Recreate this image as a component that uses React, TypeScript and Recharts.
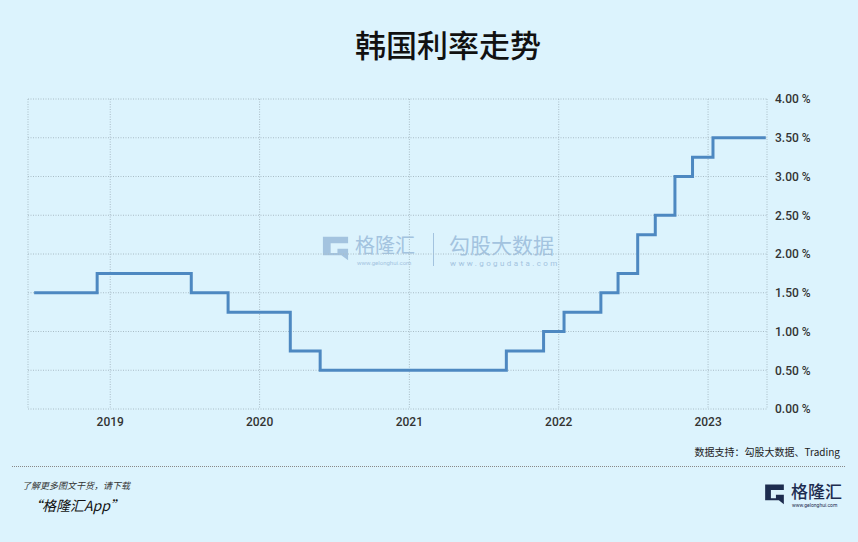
import { LineChart, Line, XAxis, YAxis, CartesianGrid } from 'recharts';

const rateDates = [
  '2018-06-29', '2018-11-30', '2019-07-18', '2019-10-16', '2020-03-16', '2020-05-28',
  '2021-08-26', '2021-11-25', '2022-01-14', '2022-04-14', '2022-05-26', '2022-07-13',
  '2022-08-25', '2022-10-12', '2022-11-24', '2023-01-13', '2023-05-22',
];
const rates = [1.5, 1.75, 1.5, 1.25, 0.75, 0.5, 0.75, 1.0, 1.25, 1.5, 1.75, 2.25, 2.5, 3.0, 3.25, 3.5, 3.5];
const yearTicks = ['2019-01-01', '2020-01-01', '2021-01-01', '2022-01-01', '2023-01-01'];
const rateTicks = [0, 0.5, 1, 1.5, 2, 2.5, 3, 3.5, 4];
const xDomain = ['2018-06-14', '2023-05-25'];

const ts = (d: string) => Date.parse(d + 'T00:00:00Z');
const data = rateDates.map((d, i) => ({ t: ts(d), rate: rates[i] }));

const BG = '#dcf3fd';
const WM = '#a3c3df';
const axisFont = { fontFamily: 'Roboto, "Noto Sans", sans-serif', fontSize: 12, fontWeight: 500, fill: '#333' };

function GLogo({ w, h, color }: { w: number; h: number; color: string }) {
  return (
    <svg width={w} height={h} viewBox="0 0 32 32" preserveAspectRatio="none">
      <path d="M3 2 H29 V10 H11 V22 H18 V17 H29 V31 L22 25 H3 Z" fill={color} />
    </svg>
  );
}

const abs = (left: number, top: number): React.CSSProperties => ({ position: 'absolute', left, top, whiteSpace: 'nowrap' });

export default function App() {
  return (
    <div style={{ position: 'fixed', left: 0, top: 0, width: 858, height: 542, background: BG, overflow: 'hidden', fontFamily: '"Noto Sans CJK SC", sans-serif' }}>
      <div style={{ ...abs(355, 22), fontSize: 31, fontWeight: 500, color: '#111', lineHeight: '44px' }}>
        韩国利率走势
      </div>

      {/* watermark */}
      <div style={abs(320, 235)}><GLogo w={31} h={26} color={WM} /></div>
      <div style={{ ...abs(355, 235), fontSize: 20, lineHeight: '20px', color: WM }}>格隆汇</div>
      <div style={{ ...abs(357, 259), fontSize: 6, lineHeight: '7px', color: WM, fontFamily: 'Roboto, sans-serif' }}>www.gelonghui.com</div>
      <div style={{ position: 'absolute', left: 433, top: 233, width: 1, height: 33, background: WM }} />
      <div style={{ ...abs(449, 231), fontSize: 21, lineHeight: '26px', color: WM }}>勾股大数据</div>
      <div style={{ ...abs(450, 259), fontSize: 8, lineHeight: '10px', color: WM, letterSpacing: 2.4, fontFamily: 'Roboto, sans-serif' }}>www.gogudata.com</div>

      <div style={{ position: 'absolute', left: 0, top: 0 }}>
        <LineChart width={858} height={440} data={data} margin={{ top: 99, right: 31, bottom: 1, left: 28 }}>
          <CartesianGrid stroke="#a9bcc6" strokeDasharray="1 1.5" strokeWidth={1} />
          <XAxis
            dataKey="t"
            type="number"
            scale="time"
            domain={xDomain.map(ts)}
            ticks={yearTicks.map(ts)}
            tickFormatter={(v: number) => String(new Date(v).getUTCFullYear())}
            axisLine={false}
            tickLine={false}
            tick={axisFont}
            height={30}
          />
          <YAxis
            orientation="right"
            domain={[0, 4]}
            ticks={rateTicks}
            tickFormatter={(v: number) => v.toFixed(2) + ' %'}
            axisLine={false}
            tickLine={false}
            tick={{ ...axisFont, textAnchor: 'start' }}
            width={60}
          />
          <Line
            dataKey="rate"
            type="stepAfter"
            stroke="#4d88c1"
            strokeWidth={3}
            dot={false}
            isAnimationActive={false}
          />
        </LineChart>
      </div>

      {/* footer */}
      <div style={{ position: 'absolute', right: 18, top: 444, fontSize: 10, color: '#222', lineHeight: '16px' }}>
        数据支持：勾股大数据、Trading
      </div>
      <div style={{ position: 'absolute', left: 12, top: 466, width: 833, borderTop: '1px dotted #888' }} />
      <div style={{ ...abs(22, 480), fontSize: 9, fontStyle: 'italic', color: '#333', lineHeight: '12px' }}>
        了解更多图文干货，请下载
      </div>
      <div style={{ ...abs(28, 496), fontSize: 14, fontStyle: 'italic', color: '#111', lineHeight: '18px' }}>
        “格隆汇App”
      </div>
      <div style={abs(763, 483)}><GLogo w={23} h={22} color="#1d2c4f" /></div>
      <div style={{ ...abs(791, 480), fontSize: 17, lineHeight: '21px', fontWeight: 500, color: '#1d2c4f' }}>格隆汇</div>
      <div style={{ ...abs(792, 502), fontSize: 5, lineHeight: '6px', color: '#1d2c4f', fontFamily: 'Roboto, sans-serif' }}>www.gelonghui.com</div>
    </div>
  );
}
